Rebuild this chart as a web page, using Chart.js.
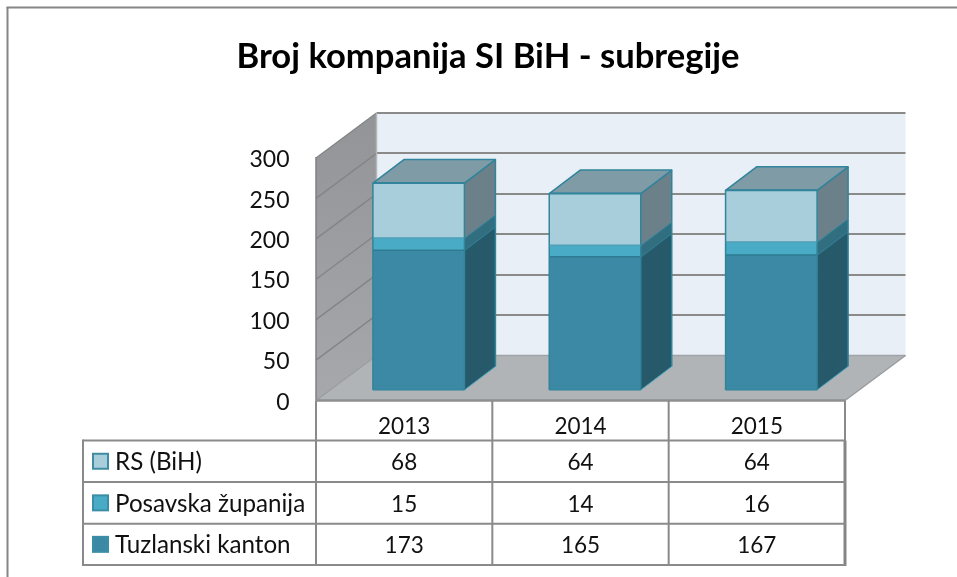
<!DOCTYPE html>
<html>
<head>
<meta charset="utf-8">
<style>html,body{margin:0;padding:0;background:#fff;overflow:hidden}canvas{display:block}</style>
<script src="https://cdn.jsdelivr.net/npm/chart.js@4/dist/chart.umd.min.js"></script>
</head>
<body>
<canvas id="c" width="957" height="577"></canvas>
<script>
const titleText = "Broj kompanija SI BiH - subregije";
const categories = ["2013", "2014", "2015"];
const tuzlanskiKanton = [173, 165, 167];
const posavskaZupanija = [15, 14, 16];
const rsBih = [68, 64, 64];
const yTicks = [0, 50, 100, 150, 200, 250, 300];

const FONT = 'Lato, Carlito, sans-serif';
const TEXT = '#111';
const LINE = '#8a8a8a';
const STROKE = '#31849b';
const series = [
  {label: 'Tuzlanski kanton', data: tuzlanskiKanton, front: '#3b89a4', side: '#265a6b', edge: '#2e7c93', key: '#3a8ea6'},
  {label: 'Posavska županija', data: posavskaZupanija, front: '#49abc5', side: '#316f80', edge: '#4f9fb6', key: '#3a8ea6'},
  {label: 'RS (BiH)', data: rsBih, front: '#a8cedc', side: '#6c808a', edge: '#31849b', key: '#3f8ca3'}
];
const WALL = {dx: 60.5, dy: -45};
const BAR = {ox: 14.5, oy: -10.5, dx: 31, dy: -23.5};

function poly(ctx, pts, fill, stroke, lw) {
  ctx.beginPath();
  pts.forEach((p, i) => i ? ctx.lineTo(p[0], p[1]) : ctx.moveTo(p[0], p[1]));
  ctx.closePath();
  if (fill) { ctx.fillStyle = fill; ctx.fill(); }
  if (stroke) { ctx.strokeStyle = stroke; ctx.lineWidth = lw || 1; ctx.lineJoin = 'round'; ctx.stroke(); }
}
function seg(ctx, x1, y1, x2, y2, color, lw) {
  ctx.beginPath(); ctx.moveTo(x1, y1); ctx.lineTo(x2, y2);
  ctx.strokeStyle = color; ctx.lineWidth = lw; ctx.stroke();
}

const scene = {
  id: 'scene',
  beforeDraw(chart) {
    chart.ctx.save();
    chart.ctx.translate(0, 1.8);
  },
  beforeDatasetsDraw(chart) {
    chart.ctx.restore();
    const {ctx, chartArea: a, scales: {y}} = chart;
    const t = a.top, b = a.bottom, l = a.left, r = a.right;
    const {dx, dy} = WALL;
    ctx.save();
    seg(ctx, 7.5, 7, 7.5, 577, '#868686', 2);
    seg(ctx, 6.5, 7.5, 957, 7.5, '#868686', 2);
    poly(ctx, [[l + dx, t + dy], [r + dx, t + dy], [r + dx, b + dy], [l + dx, b + dy]], '#e8eff6');
    const g = ctx.createLinearGradient(0, t + dy, 0, b);
    g.addColorStop(0, '#929497'); g.addColorStop(1, '#a6a8ab');
    poly(ctx, [[l, t], [l + dx, t + dy], [l + dx, b + dy], [l, b]], g);
    poly(ctx, [[l, b], [l + dx, b + dy], [r + dx, b + dy], [r, b]], '#b1b4b7');
    yTicks.forEach(v => {
      const p = y.getPixelForValue(v);
      if (v > 0) seg(ctx, l + dx, Math.round(p + dy), r + dx, Math.round(p + dy), LINE, 2);
      else seg(ctx, l + dx, p + dy, r + dx, p + dy, '#a0a4a8', 1.5);
      seg(ctx, l, p, l + dx, p + dy, v > 0 ? '#848587' : '#9b9da0', 1.5);
    });
    seg(ctx, l + dx, t + dy, l + dx, b + dy, '#b4b6b8', 1.5);
    seg(ctx, l, t - 1, l, b, '#808184', 1.5);
    seg(ctx, l, b, r, b, '#8d8f91', 2.5);
    seg(ctx, r, b, r + dx, b + dy, '#9a9c9e', 1.5);
    ctx.restore();

    ctx.save();
    ctx.translate(BAR.ox, BAR.oy);
    series.forEach((s, i) => {
      chart.getDatasetMeta(i).data.forEach(el => {
        const p = el.getProps(['x', 'y', 'base', 'width'], true);
        const xr = p.x + p.width / 2, xl = p.x - p.width / 2;
        poly(ctx, [[xr, p.base], [xr + BAR.dx, p.base + BAR.dy], [xr + BAR.dx, p.y + BAR.dy], [xr, p.y]], s.side);
        seg(ctx, xr + BAR.dx, p.base + BAR.dy, xr + BAR.dx, p.y + BAR.dy, STROKE, 1.5);
        seg(ctx, xr, p.y, xr + BAR.dx, p.y + BAR.dy, STROKE, 1.5);
        if (i === 0) seg(ctx, xr, p.base, xr + BAR.dx, p.base + BAR.dy, '#4aa7bd', 1);
        if (i === series.length - 1) {
          poly(ctx, [[xl, p.y], [xr, p.y], [xr + BAR.dx, p.y + BAR.dy], [xl + BAR.dx, p.y + BAR.dy]], '#7f9ca6', STROKE, 1.5);
        }
      });
    });
  },
  afterDatasetsDraw(chart) {
    const ctx0 = chart.ctx;
    // bar outlines, still inside the shifted drawing context
    series.forEach((s, i) => {
      chart.getDatasetMeta(i).data.forEach(el => {
        const p = el.getProps(['x', 'y', 'base', 'width'], true);
        const xr = p.x + p.width / 2, xl = p.x - p.width / 2;
        seg(ctx0, xl, p.base, xl, p.y, STROKE, 1.5);
        seg(ctx0, xr, p.base, xr, p.y, STROKE, 1.5);
        seg(ctx0, xl, p.y, xr, p.y, s.edge, i === series.length - 1 ? 2 : 1.5);
        if (i === 0) seg(ctx0, xl, p.base, xr, p.base, STROKE, 1);
      });
    });
    ctx0.restore();
    const {ctx, chartArea: a, scales: {x}} = chart;
    ctx.save();
    const tableLeft = 83, rowTops = [440.5, 482, 523.7, 565];
    const colX = [a.left, a.left + (a.right - a.left) / 3, a.left + 2 * (a.right - a.left) / 3, a.right];
    colX.forEach(cx => seg(ctx, cx, a.bottom, cx, 566, LINE, 2));
    seg(ctx, a.right, rowTops[0], a.right, 566, '#858585', 3);
    rowTops.forEach(rt => seg(ctx, tableLeft, rt, a.right + 1, rt, LINE, 2));
    seg(ctx, tableLeft, rowTops[0] - 1, tableLeft, 566, LINE, 2);
    const rows = series.slice().reverse();
    ctx.textBaseline = 'middle';
    rows.forEach((s, r) => {
      const cy = (rowTops[r] + rowTops[r + 1]) / 2;
      ctx.fillStyle = s.front; ctx.strokeStyle = s.key; ctx.lineWidth = 2;
      ctx.fillRect(93, cy - 7.5, 15, 15);
      ctx.strokeRect(93, cy - 7.5, 15, 15);
      ctx.fillStyle = TEXT;
      ctx.textAlign = 'left';
      ctx.font = '24.2px ' + FONT;
      ctx.fillText(s.label, 115, cy + 1);
      ctx.textAlign = 'center';
      ctx.font = '22.5px ' + FONT;
      s.data.forEach((v, i) => ctx.fillText(String(v), x.getPixelForTick(i), cy + 1.5));
    });
    ctx.restore();
  }
};

new Chart(document.getElementById('c'), {
  type: 'bar',
  data: {
    labels: categories,
    datasets: series.map(s => ({
      label: s.label, data: s.data, backgroundColor: s.front,
      borderWidth: 0, barPercentage: 0.519, categoryPercentage: 1, clip: false
    }))
  },
  options: {
    responsive: false,
    animation: false,
    layout: {padding: {top: 0, left: 131, right: 112, bottom: 100}},
    plugins: {
      legend: {display: false},
      tooltip: {enabled: false},
      title: {
        display: true, text: titleText, color: '#000',
        font: {family: FONT, size: 34.6, weight: 'bold', lineHeight: 1.2},
        padding: {top: 34.75, bottom: 81.73}
      }
    },
    scales: {
      x: {
        stacked: true,
        grid: {display: false}, border: {display: false},
        ticks: {color: TEXT, font: {family: FONT, size: 22.5}, padding: 3.2, maxRotation: 0},
        afterFit(s) { s.height = 76.5; }
      },
      y: {
        stacked: true, min: 0, max: 300,
        grid: {display: false}, border: {display: false},
        ticks: {color: TEXT, font: {family: FONT, size: 23}, padding: 18.5, stepSize: 50},
        afterFit(s) { s.width = 185; }
      }
    }
  },
  plugins: [scene]
});
</script>
</body>
</html>
